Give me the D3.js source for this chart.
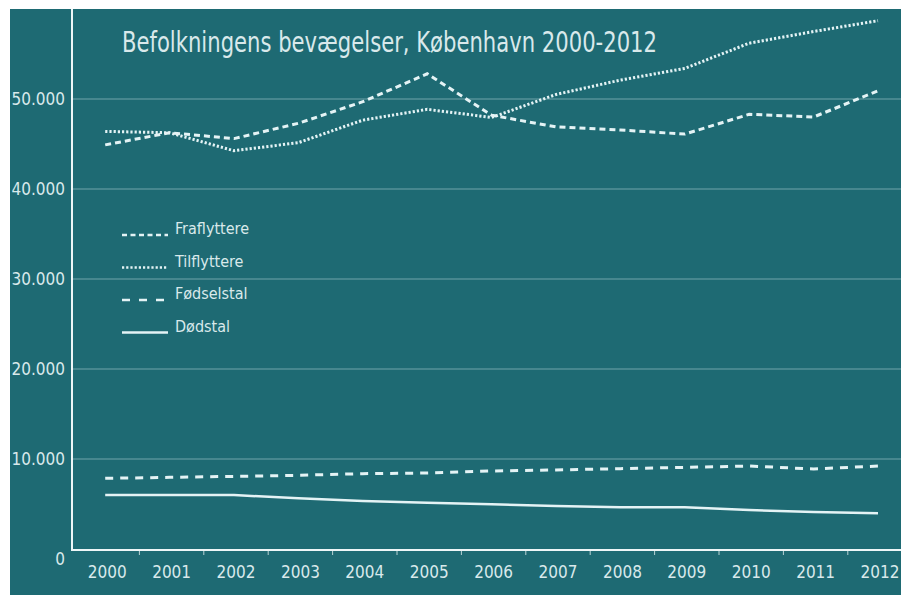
<!DOCTYPE html>
<html>
<head>
<meta charset="utf-8">
<script src="https://cdn.jsdelivr.net/npm/d3@7"></script>
<style>
  body { margin: 0; background: #fff; }
  svg text { font-family: "Liberation Sans Narrow", "DejaVu Sans Condensed", "Roboto", sans-serif; fill: #d9e9eb; }
</style>
</head>
<body>
<div id="chart"></div>
<script>
;(function () {
  // Data
  const years = ["2000", "2001", "2002", "2003", "2004", "2005", "2006", "2007", "2008", "2009", "2010", "2011", "2012"]
  const fraflyttere = [44900, 46250, 45600, 47300, 49700, 52800, 48200, 46900, 46550, 46100, 48300, 48000, 50900]
  const tilflyttere = [46400, 46250, 44250, 45150, 47650, 48850, 47950, 50500, 52100, 53400, 56200, 57500, 58700]
  const foedselstal = [7850, 7960, 8070, 8190, 8370, 8440, 8670, 8780, 8930, 9070, 9220, 8890, 9220]
  const doedstal = [6000, 6000, 6000, 5630, 5330, 5150, 4960, 4780, 4630, 4630, 4330, 4110, 3960]
  const yTicks = [0, 10000, 20000, 30000, 40000, 50000]
  const seriesNames = ["Fraflyttere", "Tilflyttere", "Fødselstal", "Dødstal"]
  const title = "Befolkningens bevægelser, København 2000-2012"

  const width = 901
  const height = 595
  const bg = "#1e6a73"
  const lineColor = "#e4f3f5"

  const dashes = {
    "Fraflyttere": "6,4",
    "Tilflyttere": "2.2,2",
    "Fødselstal": "8,7",
    "Dødstal": null
  }

  const series = [
    { name: "Fraflyttere", values: fraflyttere },
    { name: "Tilflyttere", values: tilflyttere },
    { name: "Fødselstal", values: foedselstal },
    { name: "Dødstal", values: doedstal }
  ]

  const svg = d3.select("#chart")
    .append("svg")
    .attr("width", width)
    .attr("height", height)

  // teal panel with white border top/left
  svg.append("rect")
    .attr("x", 10).attr("y", 9)
    .attr("width", width - 10).attr("height", height - 9)
    .attr("fill", bg)

  // Scales
  const xScale = d3.scaleBand()
    .domain(years)
    .range([75, 75 + 13 * 64.4])
    .padding(0)

  const yScale = d3.scaleLinear()
    .domain([0, 60000])
    .range([549, 9])

  const xc = d => xScale(d) + xScale.bandwidth() / 2 - 2

  // Gridlines
  svg.append("g")
    .selectAll("line")
    .data(yTicks.filter(d => d > 0))
    .join("line")
    .attr("x1", 72).attr("x2", width)
    .attr("y1", d => yScale(d)).attr("y2", d => yScale(d))
    .attr("stroke", "#8fb8bd")
    .attr("stroke-opacity", 0.75)
    .attr("stroke-width", 1)

  // Y axis
  const yAxis = svg.append("g")
    .attr("transform", "translate(72,0)")
    .call(d3.axisLeft(yScale)
      .tickValues(yTicks)
      .tickSize(0)
      .tickPadding(7)
      .tickFormat(d => d3.format(",")(d).replace(/,/g, ".")))
  yAxis.select(".domain").remove()
  yAxis.selectAll("text")
    .style("font-size", "17px")
    .attr("fill", "#d9e9eb")
  yAxis.selectAll(".tick").filter(d => d === 0).select("text").attr("dy", "0.9em")

  // X axis
  const xAxis = svg.append("g")
    .attr("transform", "translate(0,550)")
    .call(d3.axisBottom(xScale).tickSize(0).tickPadding(16))
  xAxis.select(".domain").remove()
  xAxis.selectAll("text")
    .style("font-size", "17px")
    .attr("fill", "#d9e9eb")

  // small tick marks between the years
  svg.append("g")
    .selectAll("line")
    .data(years.slice(1))
    .join("line")
    .attr("x1", d => xScale(d)).attr("x2", d => xScale(d))
    .attr("y1", 551).attr("y2", 555)
    .attr("stroke", "#b9d3d6")
    .attr("stroke-width", 1)

  // axis lines
  svg.append("line")
    .attr("x1", 72).attr("x2", 72).attr("y1", 9).attr("y2", 551)
    .attr("stroke", "#eef6f7").attr("stroke-width", 2)
  svg.append("line")
    .attr("x1", 71).attr("x2", width).attr("y1", 550).attr("y2", 550)
    .attr("stroke", "#eef6f7").attr("stroke-width", 2)

  // Lines
  const line = d3.line()
    .x((d, i) => xc(years[i]))
    .y(d => yScale(d))

  svg.append("g")
    .selectAll("path")
    .data(series)
    .join("path")
    .attr("d", d => line(d.values))
    .attr("fill", "none")
    .attr("stroke", lineColor)
    .attr("stroke-width", d => d.name === "Dødstal" ? 2.5 : 3)
    .attr("stroke-dasharray", d => dashes[d.name])

  // Title
  const t = svg.append("text")
    .attr("x", 122)
    .attr("y", 52)
    .style("font-size", "29px")
    .text(title)
  t.attr("textLength", 535).attr("lengthAdjust", "spacingAndGlyphs")

  // Legend
  const legend = svg.append("g")
    .selectAll("g")
    .data(seriesNames)
    .join("g")
    .attr("transform", (d, i) => `translate(122,${235 + i * 32.5})`)

  legend.append("line")
    .attr("x1", 0).attr("x2", 46)
    .attr("y1", 0).attr("y2", 0)
    .attr("stroke", lineColor)
    .attr("stroke-width", d => d === "Dødstal" ? 2.5 : 2.5)
    .attr("stroke-dasharray", d => d === "Fraflyttere" ? "5,3.5" : d === "Fødselstal" ? "8,9" : dashes[d])

  legend.append("text")
    .attr("x", 53)
    .attr("y", -1)
    .style("font-size", "16px")
    .text(d => d)
})()
</script>
</body>
</html>
